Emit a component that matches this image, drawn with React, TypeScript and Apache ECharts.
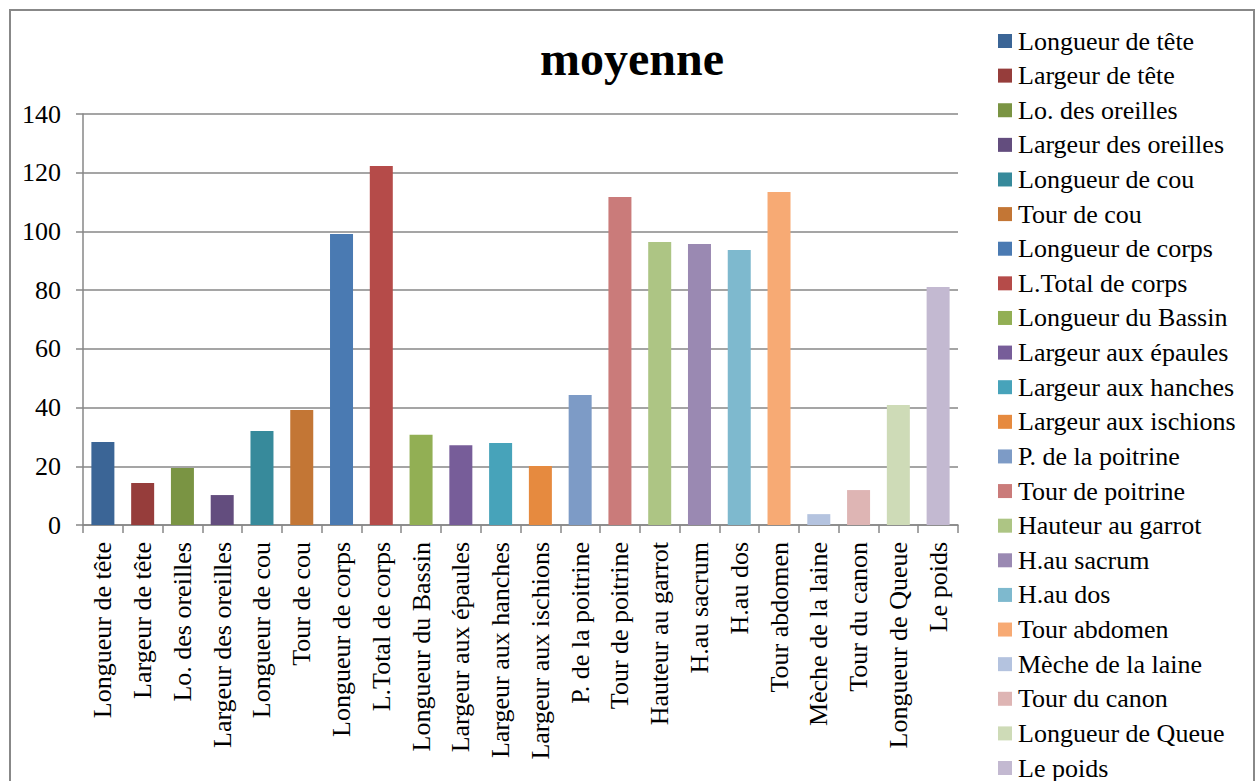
import React, { useEffect, useRef } from "react";
import * as echarts from "echarts";

// Mean body measurements
const categories: string[] = [
  "Longueur de tête",
  "Largeur de tête",
  "Lo. des oreilles",
  "Largeur des oreilles",
  "Longueur de cou",
  "Tour de cou",
  "Longueur de corps",
  "L.Total de corps",
  "Longueur du Bassin",
  "Largeur aux épaules",
  "Largeur aux hanches",
  "Largeur aux ischions",
  "P. de la poitrine",
  "Tour de poitrine",
  "Hauteur au garrot",
  "H.au sacrum",
  "H.au dos",
  "Tour abdomen",
  "Mèche de la laine",
  "Tour du canon",
  "Longueur de Queue",
  "Le poids",
];

const moyenne: number[] = [
  28.3, 14.3, 19.4, 10.2, 32.0, 39.2, 99.1, 122.3, 30.7, 27.2, 27.9, 20.1,
  44.3, 111.7, 96.4, 95.7, 93.7, 113.4, 3.7, 11.9, 40.9, 81.1,
];

const barColors: string[] = [
  "#3b6596", "#963d3b", "#7a9443", "#634d7e", "#378a9b", "#c37635",
  "#4a7ab2", "#b54b49", "#92af54", "#775d99", "#47a3ba", "#e68a3f",
  "#7d9bc6", "#ca7b7a", "#adc584", "#9a89b2", "#7eb9ce", "#f7aa74",
  "#b4c3df", "#deb5b4", "#cedbb7", "#c3b9d1",
];

const yTicks = { min: 0, max: 140, interval: 20 };

const serif = "'Liberation Serif', 'Times New Roman', serif";
const gridColor = "#878787";

// Key layout on the right-hand side
const KEY_X = 998;
const KEY_Y0 = 41;
const KEY_STEP = 34.62;
const KEY_SWATCH = 14;

export default function App() {
  const ref = useRef<HTMLDivElement>(null);

  useEffect(() => {
    if (!ref.current) return;
    const chart = echarts.init(ref.current, undefined, { renderer: "svg" });

    // One series per measurement, sharing a single stack so each bar sits
    // centred in its own category slot.
    const series = categories.map((name, i) => ({
      name,
      type: "bar" as const,
      stack: "m",
      barWidth: 23,
      itemStyle: { color: barColors[i] },
      data: categories.map((_, j) => (j === i ? moyenne[i] : null)),
    }));

    // Key: a coloured square and the measurement name per series.
    const keyItems = categories.map((name, i) => {
      const cy = KEY_Y0 + i * KEY_STEP;
      return {
        type: "group" as const,
        silent: true,
        children: [
          {
            type: "rect" as const,
            shape: {
              x: KEY_X,
              y: cy - KEY_SWATCH / 2,
              width: KEY_SWATCH,
              height: KEY_SWATCH,
            },
            style: { fill: barColors[i] },
          },
          {
            type: "text" as const,
            x: KEY_X + KEY_SWATCH + 6,
            y: cy,
            style: {
              text: name,
              fill: "#000000",
              font: "26px " + serif,
              textAlign: "left",
              textVerticalAlign: "middle",
            },
          },
        ],
      };
    });

    chart.setOption({
      animation: false,
      backgroundColor: "#ffffff",
      textStyle: { fontFamily: serif },
      title: {
        text: "moyenne",
        left: 627,
        top: 29,
        textAlign: "center",
        textStyle: {
          fontFamily: serif,
          fontWeight: "bold",
          fontSize: 48,
          color: "#000000",
        },
      },
      grid: { left: 83, right: 300, top: 114, bottom: 256, containLabel: false },
      xAxis: {
        type: "category",
        data: categories,
        boundaryGap: true,
        axisLine: { show: true, lineStyle: { color: gridColor, width: 1.5 } },
        axisTick: {
          show: true,
          alignWithLabel: false,
          length: 8,
          lineStyle: { color: gridColor, width: 1.5 },
        },
        axisLabel: {
          interval: 0,
          rotate: 90,
          margin: 17,
          fontFamily: serif,
          fontSize: 26,
          color: "#000000",
        },
      },
      yAxis: {
        type: "value",
        min: yTicks.min,
        max: yTicks.max,
        interval: yTicks.interval,
        axisLine: { show: true, lineStyle: { color: gridColor, width: 1.5 } },
        axisTick: {
          show: true,
          length: 7,
          lineStyle: { color: gridColor, width: 1.5 },
        },
        splitLine: { show: true, lineStyle: { color: gridColor, width: 1.5 } },
        axisLabel: {
          margin: 22,
          fontFamily: serif,
          fontSize: 26,
          color: "#000000",
        },
      },
      graphic: [
        ...keyItems,
        {
          type: "rect",
          silent: true,
          shape: { x: 10, y: 10, width: 1244, height: 820 },
          style: { fill: "none", stroke: "#888888", lineWidth: 2 },
          z: 100,
        },
      ],
      series,
    });

    return () => {
      chart.dispose();
    };
  }, []);

  return (
    <div
      ref={ref}
      style={{ position: "fixed", left: 0, top: 0, width: 1258, height: 781 }}
    />
  );
}
